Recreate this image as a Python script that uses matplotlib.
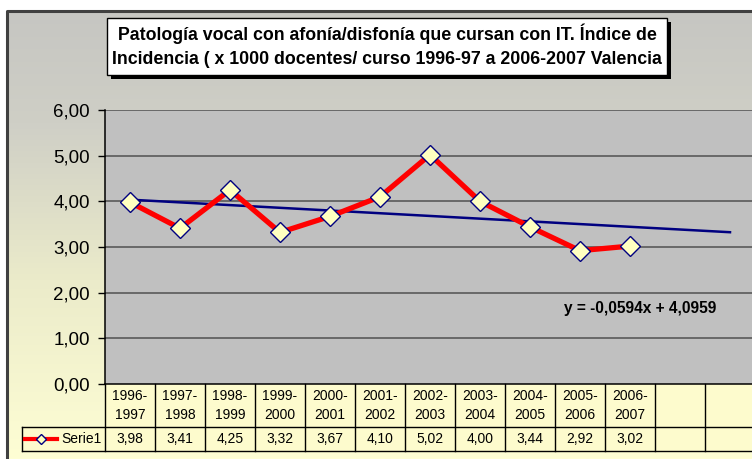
import numpy as np
import matplotlib
matplotlib.use("Agg")
import matplotlib.pyplot as plt
from matplotlib.patches import Rectangle
from matplotlib.colors import LinearSegmentedColormap

# ---- data ----
courses = ["1996-\n1997", "1997-\n1998", "1998-\n1999", "1999-\n2000", "2000-\n2001",
           "2001-\n2002", "2002-\n2003", "2003-\n2004", "2004-\n2005", "2005-\n2006",
           "2006-\n2007", "", ""]
values = [3.98, 3.41, 4.25, 3.32, 3.67, 4.10, 5.02, 4.00, 3.44, 2.92, 3.02]
value_labels = ["3,98", "3,41", "4,25", "3,32", "3,67", "4,10", "5,02", "4,00",
                "3,44", "2,92", "3,02", "", ""]
trend_slope = -0.0594
trend_icpt = 4.0959
yticks = [0, 1, 2, 3, 4, 5, 6]
title = ("Patología vocal con afonía/disfonía que cursan con IT. Índice de\n"
         "Incidencia ( x 1000 docentes/ curso 1996-97 a 2006-2007 Valencia")
equation = "y = -0,0594x + 4,0959"

W, H = 752, 459
plt.rcParams["font.family"] = ["Liberation Sans", "DejaVu Sans"]

fig = plt.figure(figsize=(W / 100, H / 100), dpi=100)
fig.patch.set_facecolor("white")

# background axes in pixel coordinates
bg = fig.add_axes([0, 0, 1, 1])
bg.set_xlim(0, W)
bg.set_ylim(H, 0)
bg.axis("off")

grad = LinearSegmentedColormap.from_list(
    "g", [(0.0, "#c6c6c2"), (0.25, "#cfcfc6"), (0.6, "#ebebca"), (1.0, "#fefed4")])
bg.imshow(np.linspace(0, 1, 256)[:, None], cmap=grad, aspect="auto",
          extent=(7, W, H, 11), zorder=0)
bg.plot([7, 7, W], [H, 11, 11], color="#404040", lw=2.2, zorder=1)

# plot area
x0, x1, ytop, ybot = 105, 755, 110, 384
ax = fig.add_axes([x0 / W, (H - ybot) / H, (x1 - x0) / W, (ybot - ytop) / H])
ax.set_facecolor("#c0c0c0")
ncat = len(courses)
ax.set_xlim(-0.5, ncat - 0.5)
ax.set_ylim(0, 6)
ax.set_yticks(yticks)
ax.set_yticklabels([f"{v:.2f}".replace(".", ",") for v in yticks], fontsize=13.5)
ax.tick_params(axis="y", direction="out", length=5, width=1, pad=6, colors="black")
ax.set_xticks([])
for v in yticks[1:]:
    ax.axhline(v, color="#505050", lw=1.1, zorder=1)
for s in ["top", "right"]:
    ax.spines[s].set_visible(False)
ax.spines["left"].set_linewidth(1.1)
ax.spines["bottom"].set_linewidth(1.1)

xs = np.arange(len(values))
ax.plot(xs, values, color="#ff0000", lw=3.8, zorder=3,
        marker="D", markersize=10, markerfacecolor="#ffffc0",
        markeredgecolor="#000080", markeredgewidth=1)
xt = np.array([0, ncat - 1])
ax.plot(xt, trend_slope * (xt + 1) + trend_icpt, color="#000080", lw=1.8, zorder=2)
ax.text(8.68, 1.66, equation, fontsize=11.2, fontweight="bold", ha="left", va="center")

# data table
def py(p):
    return (ybot - p) / (ybot - ytop) * 6

r1, r2 = 427, 451
leg_left = -0.5 - (x0 - 22) / 50
ax.add_patch(Rectangle((-0.5, py(r2)), ncat, py(ybot) - py(r2), facecolor="#fdfbcd",
                       edgecolor="none", clip_on=False, zorder=0))
ax.add_patch(Rectangle((leg_left, py(r2)), -0.5 - leg_left, py(r1) - py(r2),
                       facecolor="#fdfbcd", edgecolor="none", clip_on=False, zorder=0))
kw = dict(color="black", lw=1, clip_on=False)
ax.plot([leg_left, ncat - 0.5], [py(r1)] * 2, **kw)
ax.plot([leg_left, ncat - 0.5], [py(r2)] * 2, **kw)
ax.plot([leg_left, leg_left], [py(r1), py(r2)], **kw)
for i in range(ncat + 1):
    ax.plot([i - 0.5] * 2, [0, py(r2)], **kw)
for i, (c, v) in enumerate(zip(courses, value_labels)):
    ax.text(i, py(405.5), c, ha="center", va="center", fontsize=10, linespacing=1.45,
            clip_on=False)
    ax.text(i, py(439), v, ha="center", va="center", fontsize=10, clip_on=False)

# legend key inside table
lx = lambda p: -0.5 - (x0 - p) / 50
ax.plot([lx(25), lx(57)], [py(439)] * 2, color="#ff0000", lw=3, clip_on=False)
ax.plot([lx(41)], [py(439)], marker="D", markersize=5, markerfacecolor="#ffffc0",
        markeredgecolor="#000080", markeredgewidth=1, clip_on=False)
ax.text(lx(61), py(439), "Serie1", ha="left", va="center", fontsize=10, clip_on=False)

# title box with shadow
bg.add_patch(Rectangle((111, 22), 560, 57, facecolor="black", zorder=5))
bg.add_patch(Rectangle((107, 18), 560, 57, facecolor="white", edgecolor="black",
                       lw=1, zorder=6))
bg.text(387, 46, title, ha="center", va="center", fontsize=12.8, fontweight="bold",
        linespacing=1.5, zorder=7)

fig.savefig("out.png", dpi=100)
